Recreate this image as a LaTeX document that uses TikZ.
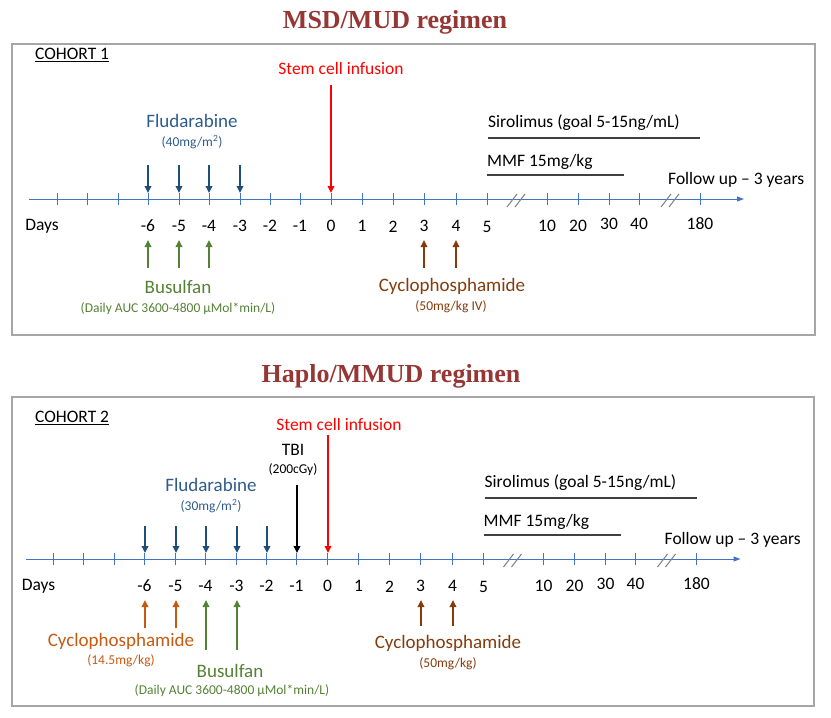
\documentclass[tikz,border=0pt]{standalone}
\usepackage{fontspec}
\setmainfont{Carlito}
\newfontfamily\titrefont{Liberation Serif}
\usetikzlibrary{arrows.meta}

\definecolor{colorTitre}{HTML}{953735}
\definecolor{colorRouge}{HTML}{FF0000}
\definecolor{colorFlu}{HTML}{2E5C8A}
\definecolor{colorFluFleche}{HTML}{1F4E79}
\definecolor{colorBu}{HTML}{548235}
\definecolor{colorCy}{HTML}{843C0C}
\definecolor{colorCyOrange}{HTML}{C55A11}
\definecolor{colorAxe}{HTML}{4472C4}
\definecolor{colorBarre}{HTML}{404040}
\definecolor{colorCadre}{HTML}{A6A6A6}
\definecolor{colorCoupure}{HTML}{7F7F7F}
\def\colorTitre{colorTitre}
\def\colorRouge{colorRouge}
\def\colorFlu{colorFlu}
\def\colorFluFleche{colorFluFleche}
\def\colorBu{colorBu}
\def\colorCy{colorCy}
\def\colorCyOrange{colorCyOrange}
\def\colorAxe{colorAxe}
\def\colorBarre{colorBarre}
\def\colorCadre{colorCadre}
\def\colorCoupure{colorCoupure}

\newcommand{\tailleTitre}{\titrefont\bfseries\fontsize{26pt}{30pt}\selectfont}
\newcommand{\tailleNom}{\fontsize{19pt}{22pt}\selectfont}
\newcommand{\tailleTexte}{\fontsize{17.5pt}{20pt}\selectfont}
\newcommand{\taillePetit}{\fontsize{13.5pt}{16pt}\selectfont}

\tikzset{
    texte/.style={draw = none , fill=none, inner sep=0pt, align=center},
    fleche/.style={line width=2pt, -{Triangle[length=7pt,width=6.5pt]}},
    cadre/.style={line width=1.2pt, color=\colorCadre},
    barre/.style={line width=2.5pt, color=\colorBarre},
    coupure/.style={line width=1pt, color=\colorCoupure}
}

\newcommand{\drawtimeline}[3]{
    % Parametres : #1=decalage x, #2=decalage y, #3=prefixe des noms
    \begin{scope}[shift={(#1,#2)}]

    % Axe des jours
    \coordinate (#3debut) at (29,199);
    \coordinate (#3fin) at (744,199);
    \draw[line width=1pt, color=\colorAxe, -{Triangle[length=7pt,width=5pt]}] (#3debut) -- (#3fin);

    \foreach \x/\lab/\y [count=\i] in {57//226, 87//226, 118//226, 148/-6/226, 179/-5/226, 209/-4/226, 240/-3/226, 270/-2/226, 300/-1/226, 331/0/226, 362/1/226, 393/2/227, 424/3/226, 456/4/226, 487/5/227, 547/10/226, 578/20/226, 609/30/224, 639/40/224, 700/180/224} {
        \draw[line width=1pt, color=\colorAxe] (\x,193) -- (\x,205);
        \node[texte] (#3j\i) at (\x,\y) {\tailleTexte \lab};
    }
    \node[texte] (#3jours) at (42,226) {\tailleTexte Days};

    % Coupures de l'axe
    \draw[coupure] (507,207) -- (517,194) (515,207) -- (525,194);
    \draw[coupure] (661,207) -- (671,194) (669,207) -- (679,194);

    % Sirolimus et MMF
    \node[texte, anchor=west] (#3siro) at (488,123) {\tailleTexte Sirolimus (goal 5-15ng/mL)};
    \coordinate (#3siroA) at (488,138);
    \coordinate (#3siroB) at (700,138);
    \draw[barre] (#3siroA) -- (#3siroB);
    \node[texte, anchor=west] (#3mmf) at (487,162) {\tailleTexte MMF 15mg/kg};
    \coordinate (#3mmfA) at (487,175);
    \coordinate (#3mmfB) at (624,175);
    \draw[barre] (#3mmfA) -- (#3mmfB);

    \node[texte, anchor=west] (#3suivi) at (668,180) {\tailleTexte Follow up -- 3 years};

    \end{scope}
}

\begin{document}
\begin{tikzpicture}[x=1pt,y=-1pt]
    \useasboundingbox (0,0) rectangle (831,718);

    % Cohorte 1 : MSD/MUD
    \node[texte, \colorTitre] (titreUn) at (395,22) {\tailleTitre MSD/MUD regimen};
    \draw[cadre] (12,44) rectangle (815,335);
    \node[texte, anchor=west] (cohorteUn) at (35,55) {\tailleTexte \underline{COHORT 1}};

    \drawtimeline{0}{0}{A}

    % Greffe
    \node[texte, \colorRouge] (greffeUn) at (341,68) {\tailleTexte Stem cell infusion};
    \coordinate (greffeUnHaut) at (331,85);
    \coordinate (greffeUnBas) at (331,193);
    \draw (greffeUnHaut) edge[fleche, \colorRouge] (greffeUnBas);

    % Fludarabine
    \node[texte, \colorFlu] (fluUn) at (192,121) {\tailleNom Fludarabine};
    \node[texte, \colorFlu] (fluUnDose) at (192,142) {\taillePetit (40mg/m\textsuperscript{2})};
    \foreach \x [count=\i] in {148,179,209,240} {
        \coordinate (fluUnHaut\i) at (\x,165);
        \coordinate (fluUnBas\i) at (\x,193);
        \draw (fluUnHaut\i) edge[fleche, \colorFluFleche] (fluUnBas\i);
    }

    % Busulfan
    \foreach \x [count=\i] in {148,179,209} {
        \coordinate (buUnBas\i) at (\x,268);
        \coordinate (buUnHaut\i) at (\x,240);
        \draw (buUnBas\i) edge[fleche, \colorBu] (buUnHaut\i);
    }
    \node[texte, \colorBu] (buUn) at (178,287) {\tailleNom Busulfan};
    \node[texte, \colorBu] (buUnDose) at (178,309) {\taillePetit (Daily AUC 3600-4800 µMol*min/L)};

    % Cyclophosphamide
    \foreach \x [count=\i] in {424,456} {
        \coordinate (cyUnBas\i) at (\x,268);
        \coordinate (cyUnHaut\i) at (\x,240);
        \draw (cyUnBas\i) edge[fleche, \colorCy] (cyUnHaut\i);
    }
    \node[texte, \colorCy] (cyUn) at (452,286) {\tailleNom Cyclophosphamide};
    \node[texte, \colorCy] (cyUnDose) at (451,307) {\taillePetit (50mg/kg IV)};

    % Cohorte 2 : Haplo/MMUD
    \node[texte, \colorTitre] (titreDeux) at (391,376) {\tailleTitre Haplo/MMUD regimen};
    \draw[cadre] (12,397) rectangle (814,706);
    \node[texte, anchor=west] (cohorteDeux) at (35,418) {\tailleTexte \underline{COHORT 2}};

    \drawtimeline{-3.5}{360}{B}

    % Greffe et TBI
    \node[texte, \colorRouge] (greffeDeux) at (339,424) {\tailleTexte Stem cell infusion};
    \coordinate (greffeDeuxHaut) at (328,435);
    \coordinate (greffeDeuxBas) at (328,553);
    \draw (greffeDeuxHaut) edge[fleche, \colorRouge] (greffeDeuxBas);

    \node[texte] (tbi) at (293,450) {\tailleTexte TBI};
    \node[texte] (tbiDose) at (293,470) {\taillePetit (200cGy)};
    \coordinate (tbiHaut) at (297,485);
    \coordinate (tbiBas) at (297,553);
    \draw (tbiHaut) edge[fleche, black] (tbiBas);

    % Fludarabine
    \node[texte, \colorFlu] (fluDeux) at (211,485) {\tailleNom Fludarabine};
    \node[texte, \colorFlu] (fluDeuxDose) at (211,506) {\taillePetit (30mg/m\textsuperscript{2})};
    \foreach \x [count=\i] in {145,176,206,237,267} {
        \coordinate (fluDeuxHaut\i) at (\x,526);
        \coordinate (fluDeuxBas\i) at (\x,553);
        \draw (fluDeuxHaut\i) edge[fleche, \colorFluFleche] (fluDeuxBas\i);
    }

    % Cyclophosphamide avant greffe
    \foreach \x [count=\i] in {145,176} {
        \coordinate (cyDeuxBas\i) at (\x,628);
        \coordinate (cyDeuxHaut\i) at (\x,600);
        \draw (cyDeuxBas\i) edge[fleche, \colorCyOrange] (cyDeuxHaut\i);
    }
    \node[texte, \colorCyOrange] (cyDeux) at (121,641) {\tailleNom Cyclophosphamide};
    \node[texte, \colorCyOrange] (cyDeuxDose) at (121,661) {\taillePetit (14.5mg/kg)};

    % Busulfan
    \foreach \x [count=\i] in {206,237} {
        \coordinate (buDeuxBas\i) at (\x,650);
        \coordinate (buDeuxHaut\i) at (\x,600);
        \draw (buDeuxBas\i) edge[fleche, \colorBu] (buDeuxHaut\i);
    }
    \node[texte, \colorBu] (buDeux) at (230,671) {\tailleNom Busulfan};
    \node[texte, \colorBu] (buDeuxDose) at (232,691) {\taillePetit (Daily AUC 3600-4800 µMol*min/L)};

    % Cyclophosphamide apres greffe
    \foreach \x [count=\i] in {421,453} {
        \coordinate (cyTroisBas\i) at (\x,626);
        \coordinate (cyTroisHaut\i) at (\x,600);
        \draw (cyTroisBas\i) edge[fleche, \colorCy] (cyTroisHaut\i);
    }
    \node[texte, \colorCy] (cyTrois) at (448,643) {\tailleNom Cyclophosphamide};
    \node[texte, \colorCy] (cyTroisDose) at (448,664) {\taillePetit (50mg/kg)};

\end{tikzpicture}
\end{document}
